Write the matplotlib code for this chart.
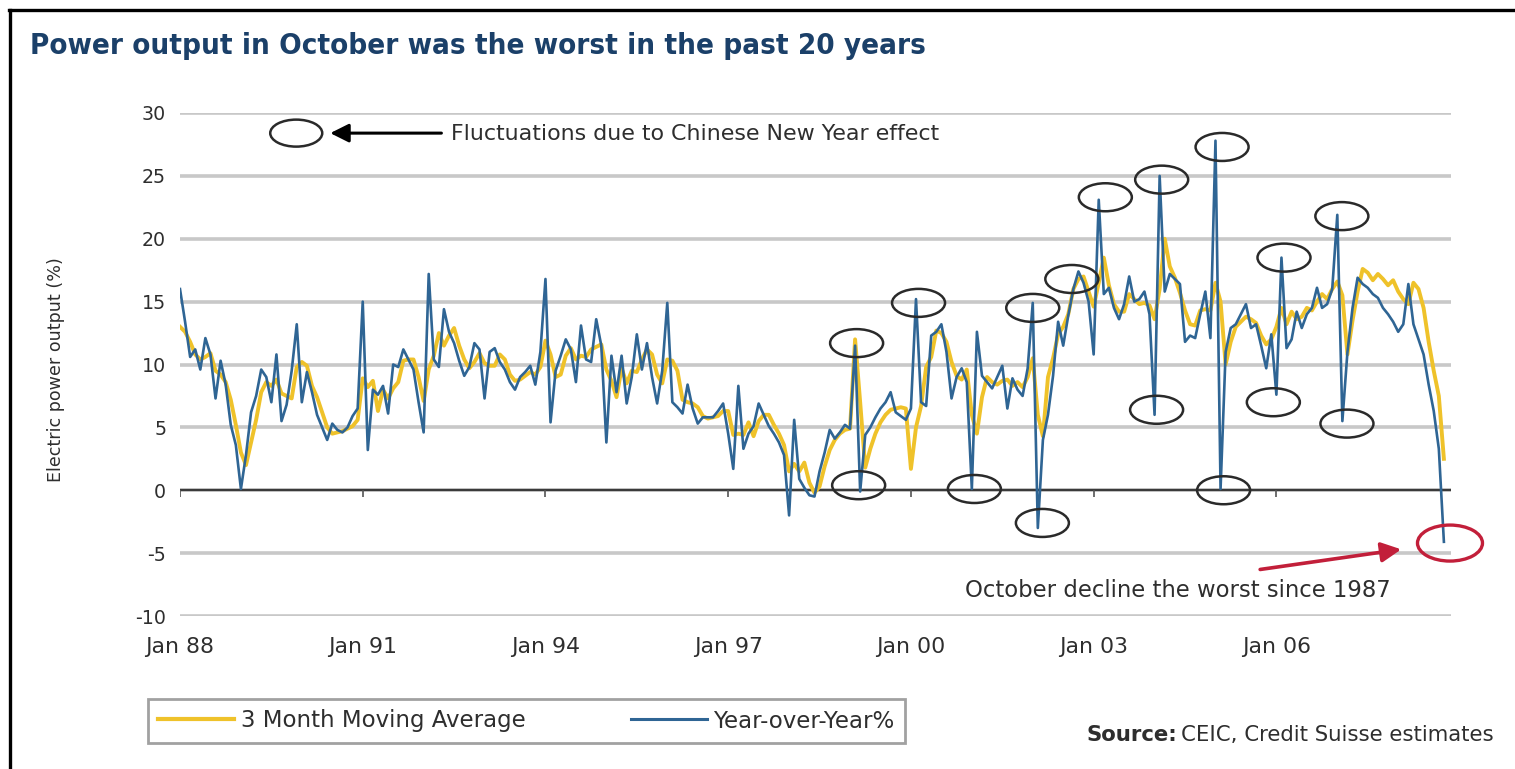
import numpy as np
import matplotlib
matplotlib.use("Agg")
import matplotlib.pyplot as plt
from matplotlib.patches import Ellipse
from matplotlib.lines import Line2D

plt.rcParams['font.family'] = ['DejaVu Sans']

# monthly series, Jan 1988 .. Oct 2008 (index 0 = Jan 88)
yoy = [
    16.0, 13.4, 10.6, 11.2, 9.6, 12.1, 10.8, 7.3, 10.3, 8.4, 5.2, 3.6,
    0.1, 2.8, 6.2, 7.5, 9.6, 9.0, 7.0, 10.8, 5.5, 6.8, 9.5, 13.2,
    7.0, 9.4, 7.8, 6.0, 5.0, 4.0, 5.3, 4.8, 4.6, 5.0, 5.9, 6.5,
    15.0, 3.2, 8.0, 7.6, 8.3, 6.1, 10.0, 9.8, 11.2, 10.4, 9.6, 7.0,
    4.6, 17.2, 10.4, 9.8, 14.4, 12.6, 11.7, 10.3, 9.1, 9.8, 11.7, 11.2,
    7.3, 11.0, 11.3, 10.2, 9.6, 8.6, 8.0, 9.0, 9.4, 9.9, 8.4, 11.0,
    16.8, 5.4, 9.5, 10.7, 12.0, 11.2, 8.6, 13.1, 10.4, 10.2, 13.6, 11.5,
    3.8, 10.7, 7.8, 10.7, 6.9, 9.0, 12.4, 9.6, 11.7, 9.0, 6.9, 9.5,
    14.9, 7.0, 6.6, 6.1, 8.4, 6.5, 5.3, 5.8, 5.8, 5.8, 6.3, 6.9,
    4.5, 1.7, 8.3, 3.3, 4.5, 5.1, 6.9, 6.0, 5.1, 4.5, 3.8, 2.8,
    -2.0, 5.6, 0.9, 0.2, -0.4, -0.5, 1.5, 3.0, 4.8, 4.1, 4.6, 5.2,
    4.9, 11.5, -0.1, 4.4, 5.0, 5.8, 6.5, 7.0, 7.8, 6.2, 5.9, 5.6,
    6.5, 15.2, 7.0, 6.7, 12.3, 12.6, 13.2, 11.0, 7.3, 9.0, 9.7, 8.6,
    0.1, 12.6, 9.1, 8.6, 8.1, 9.0, 9.9, 6.5, 8.9, 8.0, 7.5, 9.7,
    14.9, -3.0, 4.0, 6.0, 9.1, 13.4, 11.5, 13.9, 16.0, 17.4, 16.5, 15.0,
    10.8, 23.1, 15.6, 16.1, 14.5, 13.6, 14.8, 17.0, 15.0, 15.2, 15.8, 14.0,
    6.0, 25.0, 15.8, 17.2, 16.8, 16.4, 11.8, 12.3, 12.1, 14.0, 15.8, 12.1,
    27.8, 0.1, 11.0, 12.9, 13.2, 14.0, 14.8, 12.9, 13.2, 11.5, 9.7, 12.4,
    7.6, 18.5, 11.3, 12.0, 14.2, 12.9, 14.0, 14.5, 16.1, 14.5, 14.8, 16.0,
    21.9, 5.5, 11.0, 14.5, 16.9, 16.4, 16.1, 15.6, 15.3, 14.5, 14.0, 13.4,
    12.6, 13.2, 16.4, 13.2, 12.0, 10.8, 8.4, 6.3, 3.3, -4.1,
]
ma3 = [
    13.0, 12.6, 11.8, 10.8, 10.4, 10.6, 10.9, 9.5, 9.2, 8.6, 7.2, 5.2,
    3.0, 2.0, 3.8, 5.6, 7.8, 8.6, 8.3, 8.8, 7.7, 7.5, 7.3, 9.8,
    10.2, 9.9, 8.3, 7.4, 6.2, 5.0, 4.5, 4.6, 4.7, 4.9, 5.1, 5.6,
    8.9, 8.2, 8.7, 6.3, 8.0, 7.3, 8.1, 8.6, 10.3, 10.4, 10.4, 9.0,
    7.1, 9.6, 10.7, 12.5, 11.5, 12.3, 12.9, 11.5, 10.4, 9.7, 10.2, 10.9,
    10.1, 9.9, 9.9, 10.8, 10.4, 9.2, 8.7, 8.8, 9.1, 9.4, 9.2, 9.8,
    11.9, 10.8, 9.0, 9.2, 10.7, 11.3, 10.4, 10.7, 10.6, 11.2, 11.4, 11.6,
    9.6, 8.7, 7.4, 9.7, 8.5, 9.5, 9.4, 10.4, 11.2, 10.8, 9.2, 8.5,
    10.4, 10.3, 9.5, 7.2, 7.0, 6.9, 6.6, 5.9, 5.7, 5.8, 5.9, 6.3,
    6.3, 4.4, 4.5, 4.4, 5.4, 4.3, 5.5, 6.0, 6.0, 5.2, 4.5, 3.6,
    1.5, 2.1, 1.5, 2.2, 0.6, -0.2, 0.3, 1.9, 3.2, 4.0, 4.5, 4.8,
    4.9, 12.0, 7.0, 1.8, 3.3, 4.5, 5.4, 6.0, 6.4, 6.5, 6.6, 6.5,
    1.7, 5.0, 6.7, 9.8, 10.6, 12.7, 12.5, 11.8, 10.2, 9.1, 8.8, 9.6,
    6.0, 4.5, 7.4, 9.0, 8.6, 8.4, 8.7, 8.8, 8.3, 8.6, 8.2, 9.0,
    10.5, 6.0, 4.3, 9.0, 10.5, 12.4, 13.0, 14.0, 16.0, 16.8, 17.0, 15.8,
    14.6, 16.5, 18.5, 16.3, 14.8, 14.2, 14.2, 15.6, 15.2, 14.8, 14.9, 14.7,
    13.6, 16.0, 20.0, 17.8, 16.9, 15.7, 14.3, 13.2, 13.1, 14.3, 14.4, 14.3,
    16.5, 15.0, 10.0, 11.8, 13.0, 13.4, 13.8, 13.6, 13.3, 12.3, 11.6, 12.0,
    13.0, 14.5, 13.2, 14.2, 13.6, 13.8, 14.5, 14.3, 15.0, 15.6, 15.2, 16.0,
    16.6, 15.5, 10.8, 13.5, 15.8, 17.6, 17.3, 16.7, 17.2, 16.8, 16.3, 16.7,
    15.8, 15.2, 14.8, 16.5, 16.0, 14.5, 11.8, 9.5, 7.5, 2.5,
]
months = np.arange(len(yoy))

tick_months = [0, 36, 72, 108, 144, 180, 216]
tick_labels = ['Jan 88', 'Jan 91', 'Jan 94', 'Jan 97', 'Jan 00', 'Jan 03', 'Jan 06']
y_ticks = [-10, -5, 0, 5, 10, 15, 20, 25, 30]

# Chinese New Year spikes (month index, value)
cny_marks = [
    (133.3, 11.7), (133.7, 0.4), (145.5, 14.9), (156.5, 0.1),
    (168.0, 14.5), (169.9, -2.6), (175.7, 16.8), (182.3, 23.3),
    (193.4, 24.7), (192.4, 6.4), (205.3, 27.3), (205.6, 0.0),
    (217.5, 18.5), (215.4, 7.0), (228.9, 21.8), (229.9, 5.3),
]
october_mark = (250.2, -4.2)

BLUE = '#2f6594'
YELLOW = '#efc22a'
TEXT = '#2e2e2e'
TITLE = '#1b4069'
GRID = '#c8c8c8'

fig = plt.figure(figsize=(15.15, 7.69), dpi=100)
ax = fig.add_axes([180 / 1515, 1 - 616 / 769, 1271 / 1515, 503 / 769])

ax.set_xlim(0, 250.4)
ax.set_ylim(-10, 30)
for s in ax.spines.values():
    s.set_visible(False)
ax.set_yticks(y_ticks)
ax.set_yticklabels([str(v) for v in y_ticks])
ax.set_xticks(tick_months)
ax.set_xticklabels(tick_labels)
ax.tick_params(axis='both', length=0, colors=TEXT)
ax.tick_params(axis='x', pad=15, labelsize=15.8)
ax.tick_params(axis='y', pad=10, labelsize=13.7)
ax.yaxis.grid(True, color=GRID, lw=2.6)
ax.set_axisbelow(True)
ax.axhline(0, color='#3a3a3a', lw=1.6, zorder=2)
ax.vlines(tick_months, -0.5, 0, color='#555555', lw=1.2, zorder=2)

ax.plot(months, ma3, color=YELLOW, lw=2.8, zorder=3, solid_joinstyle='round')
ax.plot(months, yoy, color=BLUE, lw=1.9, zorder=4, solid_joinstyle='round')

# ellipse size in data units (~53 x 28 px)
ew, eh = 53 / 5.075, 28 / 12.575
for mx, my in cny_marks:
    ax.add_patch(Ellipse((mx, my), ew, eh, fill=False, ec='#2a2a2a', lw=1.8, zorder=5))
ax.add_patch(Ellipse(october_mark, 65 / 5.075, 36 / 12.575, fill=False,
                     ec='#c21f3a', lw=2.4, zorder=5, clip_on=False))

# key for the circled points
ax.add_patch(Ellipse((22.9, 28.4), 52 / 5.075, 27 / 12.575, fill=False,
                     ec='#2a2a2a', lw=1.8, zorder=5))
ax.annotate('', xy=(29.6, 28.4), xytext=(51.5, 28.4),
            arrowprops=dict(arrowstyle='-|>', color='black', lw=2.2,
                            mutation_scale=28, shrinkA=0, shrinkB=0))
ax.text(53.4, 28.3, 'Fluctuations due to Chinese New Year effect',
        fontsize=15.9, color=TEXT, va='center', ha='left')

ax.annotate('', xy=(240.6, -4.7), xytext=(212.8, -6.3),
            arrowprops=dict(arrowstyle='-|>', color='#c21f3a', lw=2.6,
                            mutation_scale=30, shrinkA=0, shrinkB=0),
            annotation_clip=False)
ax.text(196.5, -8.0, 'October decline the worst since 1987',
        fontsize=16.4, color=TEXT, va='center', ha='center')

fig.text(30 / 1515, 1 - 46 / 769, 'Power output in October was the worst in the past 20 years',
         fontsize=21.2, fontweight='bold', fontstretch='condensed', color=TITLE,
         va='center', ha='left')
fig.text(56 / 1515, 1 - 370 / 769, 'Electric power output (%)', rotation=90,
         fontsize=12.6, color=TEXT, va='center', ha='center')

handles = [Line2D([], [], color=YELLOW, lw=3), Line2D([], [], color=BLUE, lw=2.2)]
leg = fig.legend(handles, ['3 Month Moving Average', 'Year-over-Year%'],
                 loc='center left', bbox_to_anchor=(148 / 1515, 1 - 721 / 769),
                 ncol=2, fontsize=16.5, frameon=True, fancybox=False,
                 handlelength=3.3, handletextpad=0.3, columnspacing=4.6,
                 borderpad=0.45, borderaxespad=0)
leg.get_frame().set_edgecolor('#8a8a8a')
leg.get_frame().set_linewidth(2)
for t in leg.get_texts():
    t.set_color(TEXT)

src_bold = fig.text(1087 / 1515, 1 - 735 / 769, 'Source:', fontsize=15.3,
                    fontweight='bold', color=TEXT, va='center', ha='left')
fig.canvas.draw()
bb = src_bold.get_window_extent()
fig.text(bb.x1 / 1515 + 0.002, 1 - 735 / 769, 'CEIC, Credit Suisse estimates',
         fontsize=15.3, color=TEXT, va='center', ha='left')

# outer frame: top and left rules
fig.add_artist(Line2D([9 / 1515, 1], [1 - 9.5 / 769, 1 - 9.5 / 769],
                      transform=fig.transFigure, color='black', lw=2.4))
fig.add_artist(Line2D([9.5 / 1515, 9.5 / 1515], [0, 1 - 9.5 / 769],
                      transform=fig.transFigure, color='black', lw=2.4))

fig.savefig('out.png', dpi=100)
